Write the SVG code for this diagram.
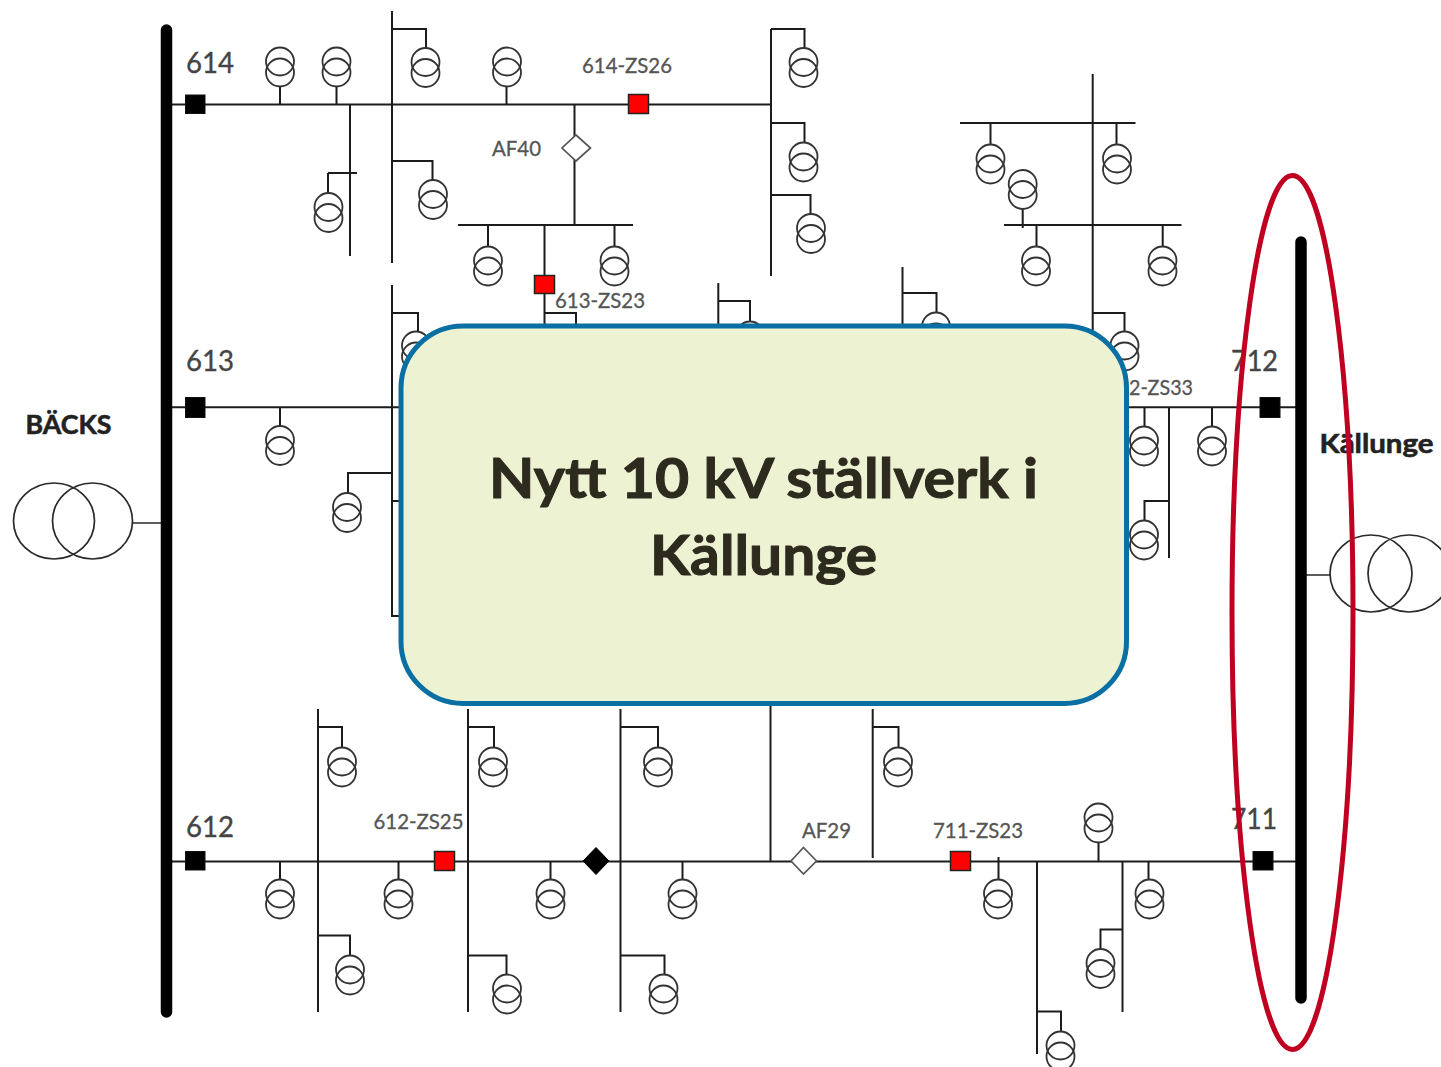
<svg xmlns="http://www.w3.org/2000/svg" width="1441" height="1067" viewBox="0 0 1441 1067">
<style>
.bg{fill:#fff}
.w{fill:none;stroke:#1c1c1c;stroke-width:2}
.tx{fill:none;stroke:#333;stroke-width:1.8}
.big{fill:none;stroke:#2a2a2a;stroke-width:1.7}
.bus{stroke:#000;stroke-width:11.5;stroke-linecap:round;fill:none}
.blk{fill:#000;stroke:#111;stroke-width:1}
.red{fill:#f00;stroke:#222;stroke-width:1.5}
.dia{fill:#fff;stroke:#555;stroke-width:1.7}
.dk{fill:#000;stroke:#000;stroke-width:1}
text{font-family:Lato,"Liberation Sans",sans-serif}
.id{font-size:28px;fill:#444;stroke:#444;stroke-width:.35}
.sm{font-size:21px;fill:#555;stroke:#555;stroke-width:.3}
.nm{font-size:27px;font-weight:700;fill:#222;stroke:#222;stroke-width:.6}
.title{font-size:55px;font-weight:700;fill:#2d2a1e;stroke:#2d2a1e;stroke-width:1}
</style>
<defs>
<g id="t"><circle class="tx" cx="0" cy="-5.5" r="14"/><circle class="tx" cx="0" cy="5.5" r="14"/></g>
</defs>
<rect class="bg" x="0" y="0" width="1441" height="1067"/>
<g id="connectors">
<path class="w" d="M172 104.6H771M280 86V104.6M336.5 86V104.6M506.5 86V104.6M392 11V263M392 29H426V48M350 104.6V256M328 173H357M328 173V193M392 161H432.500V180M574.500 104.600V225M458 225H633M488 225V247M614.500 225V247M544.500 225V326M544.500 313H576V326"/>
<path class="w" d="M771 29V276M771 29H804.500V48M771 123H804.500V143M771 195H810.500V214"/>
<path class="w" d="M1092.700 74V340M960 123H1135.500M990.500 123V145M1116.500 123V145M1022.700 209V228M1004 225H1181.500M1036.500 225V247M1162.700 225V247M1093 313H1124.500V332"/>
<path class="w" d="M392 285V616H401M392 313H418V332M392 501H401M718.300 283V326M718.300 301H750V322M902.500 267V326M902.500 293H936.500V313"/>
<path class="w" d="M172 407.300H401M280 407.300V427M392 473H348V493"/>
<path class="w" d="M1127 407.300H1296M1144.500 407.300V427M1212 407.300V427M1169 407.300V558M1169 501H1144.500V521"/>
<path class="w" d="M172 861.500H1296M280 861.500V880M318 709V1012M318 727H342V747M318 935.500H350V956M398.500 861.500V880M468 709V1012M468 727H494V747M468 955.500H506.500V975M550.500 861.500V880M620.500 709V1012M620.500 727H658V747M620.500 955.500H664.500V975M682.500 861.500V880M770.500 705V861.500M872.700 709V858M872.700 727H898.500V747M998.500 857V880M1037 861.500V1054M1037 1011.500H1061V1032M1098.500 842V861.500M1122.500 861.500V1012M1122.500 929.500H1100.500V949M1148.500 861.500V880"/>
<path class="big" d="M132 523H161M1306 575H1330"/>
</g>
<g id="bus-backs"><path class="bus" d="M166.500 30V1012"/></g>
<g id="bus-kallunge"><path class="bus" d="M1301 242V998"/></g>
<g id="tf-backs"><ellipse class="big" cx="54" cy="521" rx="40.500" ry="38"/><ellipse class="big" cx="92.500" cy="521" rx="40" ry="38"/></g>
<g id="tf-kallunge"><ellipse class="big" cx="1371" cy="573.500" rx="41" ry="38.500"/><ellipse class="big" cx="1409" cy="573.500" rx="41" ry="38.500"/></g>
<g id="labels">
<text class="nm" x="25.500" y="434" textLength="86" lengthAdjust="spacingAndGlyphs">BÄCKS</text>
<text class="nm" x="1319.500" y="453" textLength="114" lengthAdjust="spacingAndGlyphs">Källunge</text>
<text class="id" x="186" y="72.500" textLength="48" lengthAdjust="spacingAndGlyphs">614</text>
<text class="id" x="186" y="371" textLength="48" lengthAdjust="spacingAndGlyphs">613</text>
<text class="id" x="186" y="836.500" textLength="48" lengthAdjust="spacingAndGlyphs">612</text>
<text class="id" x="1231" y="370.500" textLength="47" lengthAdjust="spacingAndGlyphs">712</text>
<text class="id" x="1231" y="828.500" textLength="46" lengthAdjust="spacingAndGlyphs">711</text>
<text class="sm" x="582" y="73" textLength="90" lengthAdjust="spacingAndGlyphs">614-ZS26</text>
<text class="sm" x="492" y="156" textLength="49" lengthAdjust="spacingAndGlyphs">AF40</text>
<text class="sm" x="555" y="308" textLength="90" lengthAdjust="spacingAndGlyphs">613-ZS23</text>
<text class="sm" x="1129" y="395" textLength="64" lengthAdjust="spacingAndGlyphs">2-ZS33</text>
<text class="sm" x="373.500" y="829" textLength="90" lengthAdjust="spacingAndGlyphs">612-ZS25</text>
<text class="sm" x="802" y="838" textLength="49" lengthAdjust="spacingAndGlyphs">AF29</text>
<text class="sm" x="933" y="838" textLength="90" lengthAdjust="spacingAndGlyphs">711-ZS23</text>
</g>
<g id="breaker-614"><rect class="blk" x="185.500" y="95" width="19.500" height="18.500"/></g>
<g id="breaker-613"><rect class="blk" x="185.500" y="397.500" width="19.500" height="20"/></g>
<g id="breaker-612"><rect class="blk" x="185.500" y="851.500" width="19.500" height="18.500"/></g>
<g id="breaker-712"><rect class="blk" x="1260" y="397.500" width="20" height="20"/></g>
<g id="breaker-711"><rect class="blk" x="1253" y="851.500" width="20" height="18.500"/></g>
<g id="zs-614-26"><rect class="red" x="628.500" y="94.500" width="20" height="19"/></g>
<g id="zs-613-23"><rect class="red" x="534.500" y="275.500" width="20" height="18"/></g>
<g id="zs-612-25"><rect class="red" x="434.500" y="851.500" width="20" height="19"/></g>
<g id="zs-711-23"><rect class="red" x="950.500" y="851.500" width="20" height="19"/></g>
<g id="af40"><polygon class="dia" points="576,135 590.500,148 576,161 562,148"/></g>
<g id="af29"><polygon class="dia" points="803.500,847.500 816.500,861 803.500,874 791,861"/></g>
<g id="sw-black"><polygon class="dk" points="596,847.500 609,861 596,874.500 583,861"/></g>
<g id="t01"><use href="#t" x="280" y="67"/></g>
<g id="t02"><use href="#t" x="336.500" y="67"/></g>
<g id="t03"><use href="#t" x="425.500" y="67.500"/></g>
<g id="t04"><use href="#t" x="507" y="67"/></g>
<g id="t05"><use href="#t" x="328.500" y="212.500"/></g>
<g id="t06"><use href="#t" x="433" y="199.500"/></g>
<g id="t07"><use href="#t" x="488" y="266"/></g>
<g id="t08"><use href="#t" x="614.500" y="266"/></g>
<g id="t09"><use href="#t" x="803.500" y="67.500"/></g>
<g id="t10"><use href="#t" x="803.500" y="162"/></g>
<g id="t11"><use href="#t" x="811" y="233.500"/></g>
<g id="t12"><use href="#t" x="990.500" y="164"/></g>
<g id="t13"><use href="#t" x="1117" y="164"/></g>
<g id="t14"><use href="#t" x="1022.700" y="189.500"/></g>
<g id="t15"><use href="#t" x="1036" y="266"/></g>
<g id="t16"><use href="#t" x="1162.500" y="266"/></g>
<g id="t17"><use href="#t" x="1124.500" y="351"/></g>
<g id="t18"><use href="#t" x="416" y="351"/></g>
<g id="t19"><use href="#t" x="750" y="341"/></g>
<g id="t20"><use href="#t" x="936" y="332"/></g>
<g id="t21"><use href="#t" x="280" y="445.500"/></g>
<g id="t22"><use href="#t" x="347" y="512.500"/></g>
<g id="t23"><use href="#t" x="1144" y="446"/></g>
<g id="t24"><use href="#t" x="1212" y="446"/></g>
<g id="t25"><use href="#t" x="1144" y="540"/></g>
<g id="t26"><use href="#t" x="280" y="899"/></g>
<g id="t27"><use href="#t" x="342" y="767"/></g>
<g id="t28"><use href="#t" x="350" y="975"/></g>
<g id="t29"><use href="#t" x="398.500" y="899"/></g>
<g id="t30"><use href="#t" x="493" y="767"/></g>
<g id="t31"><use href="#t" x="507" y="994"/></g>
<g id="t32"><use href="#t" x="550.500" y="899"/></g>
<g id="t33"><use href="#t" x="658" y="767"/></g>
<g id="t34"><use href="#t" x="663.500" y="994"/></g>
<g id="t35"><use href="#t" x="682.500" y="899"/></g>
<g id="t36"><use href="#t" x="898" y="767"/></g>
<g id="t37"><use href="#t" x="998" y="899"/></g>
<g id="t38"><use href="#t" x="1060.500" y="1051"/></g>
<g id="t39"><use href="#t" x="1098.500" y="823"/></g>
<g id="t40"><use href="#t" x="1100.500" y="968.500"/></g>
<g id="t41"><use href="#t" x="1149.500" y="899"/></g>
<g id="callout">
<rect x="401" y="326" width="725.500" height="377.500" rx="62" ry="62" fill="#edf2d3" stroke="#0a6fa2" stroke-width="5"/>
<text class="title" x="489" y="497.500" textLength="549" lengthAdjust="spacingAndGlyphs">Nytt 10 kV ställverk i</text>
<text class="title" x="650" y="574.500" textLength="227" lengthAdjust="spacingAndGlyphs">Källunge</text>
</g>
<g id="highlight"><ellipse cx="1292.500" cy="612.500" rx="60.500" ry="437" fill="none" stroke="#c00020" stroke-width="5"/></g>
</svg>
